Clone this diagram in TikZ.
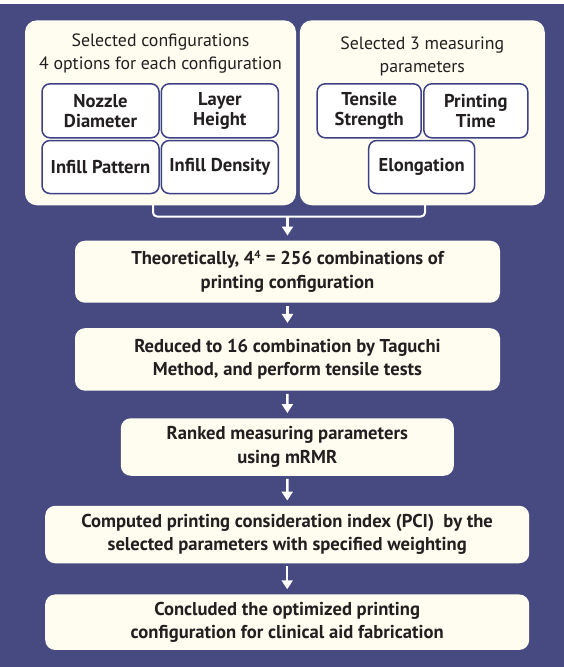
\documentclass[tikz,border=0pt]{standalone}
\usepackage{fontspec}
\setmainfont{PT Sans}
\usetikzlibrary{arrows.meta}
\definecolor{fond}{HTML}{474A81}
\definecolor{creme}{HTML}{FEFDF0}
\definecolor{marine}{HTML}{3D4185}
\definecolor{encre}{HTML}{231F20}
\begin{document}
\begin{tikzpicture}[x=1pt,y=-1pt]
	\tikzstyle{fleche}=[-{Triangle[width=11pt,length=9pt]},line width=2.5pt,white,shorten <=3pt,shorten >=5pt]
	\tikzstyle{accolade}=[line width=2pt,white,rounded corners=4pt]
	\tikzstyle{cadre}=[fill=creme,rounded corners=12pt,inner sep=0pt]
	\tikzstyle{titre}=[text=encre,align=center,font=\fontsize{17.8}{23}\selectfont]
	\tikzstyle{case}=[draw=marine,line width=1.5pt,fill=white,rounded corners=8pt,align=center,text=encre,font=\bfseries\fontsize{18.6}{20}\selectfont,inner sep=0pt]
	\tikzstyle{etape}=[fill=creme,rounded corners=10pt,align=center,text=encre,font=\bfseries\fontsize{18.6}{23.5}\selectfont,inner sep=0pt]
	\def\LargeurEtape{425pt}
	\def\LargeurFin{484pt}
	\useasboundingbox (0,0) rectangle (564,667);
	\fill[fond] (0,4) rectangle (564,667);
	% cadres du haut
	\node[cadre,minimum width=271pt,minimum height=185pt] (Config) at (160.5,112.8) {};
	\node[cadre,minimum width=245pt,minimum height=185pt] (Mesure) at (422.3,112.8) {};
	\node[titre] (ConfigT) at (160.5,54) {Selected configurations\\4 options for each configuration};
	\node[titre] (MesureT) at (422.3,56) {Selected 3 measuring\\parameters};
	\node[case,minimum width=117pt,minimum height=54pt,text depth=0pt] (Buse) at (100.5,110.8) {Nozzle\\Diameter};
	\node[case,minimum width=117pt,minimum height=54pt] (Couche) at (219.8,110.8) {Layer\\Height};
	\node[case,minimum width=117pt,minimum height=53pt] (Motif) at (100.5,167) {Infill Pattern};
	\node[case,minimum width=117pt,minimum height=53pt] (Densite) at (219.8,167) {Infill Density};
	\node[case,minimum width=104pt,minimum height=54pt] (Traction) at (369.2,110.8) {Tensile\\Strength};
	\node[case,minimum width=104pt,minimum height=54pt] (Temps) at (475.8,110.8) {Printing\\Time};
	\node[case,minimum width=106pt,minimum height=53pt] (Allong) at (421.7,167) {Elongation};
	% accolade
	\coordinate (AccG) at (153,205);
	\coordinate (AccD) at (425,205);
	\coordinate (AccM) at (287.5,216.5);
	\draw[accolade] (AccG) |- (AccM) -| (AccD);
	% etapes
	\node[etape,minimum width=\LargeurEtape,minimum height=62pt] (E1) at (287.5,271.7) {Theoretically, 4\textsuperscript{\fontsize{11}{11}\selectfont 4} = 256 combinations of\\printing configuration};
	\node[etape,minimum width=\LargeurEtape,minimum height=62.5pt] (E2) at (287.5,359.4) {Reduced to 16 combination by Taguchi\\Method, and perform tensile tests};
	\node[etape,minimum width=333pt,minimum height=57.5pt] (E3) at (287.3,447) {Ranked measuring parameters\\using mRMR};
	\node[etape,minimum width=\LargeurFin,minimum height=57.5pt] (E4) at (287.2,534.5) {Computed printing consideration index (PCI)~ by the\\selected parameters with specified weighting};
	\node[etape,minimum width=\LargeurFin,minimum height=55.5pt] (E5) at (287.2,622.2) {Concluded the optimized printing\\configuration for clinical aid fabrication};
	\draw[fleche,shorten <=0pt] (AccM) -- (E1);
	\draw[fleche] (E1) -- (E2);
	\draw[fleche] (E2) -- (E3);
	\draw[fleche] (E3) -- (E4);
	\draw[fleche] (E4) -- (E5);
\end{tikzpicture}
\end{document}
